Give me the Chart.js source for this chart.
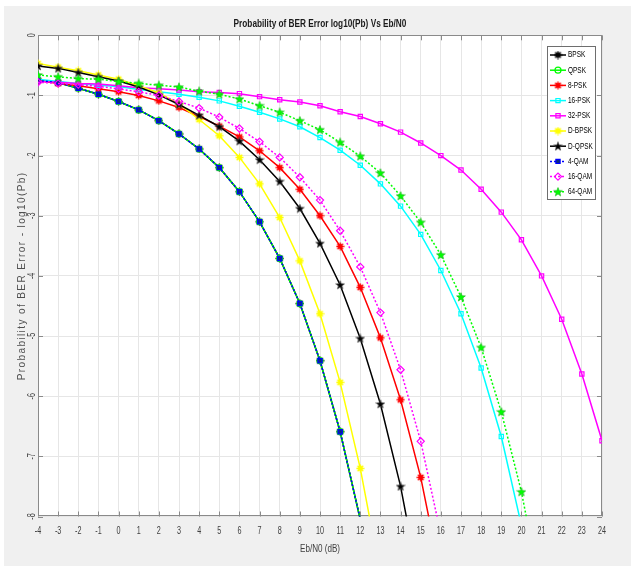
<!DOCTYPE html>
<html>
<head>
<meta charset="utf-8">
<script src="https://cdn.jsdelivr.net/npm/chart.js@4.4.1/dist/chart.umd.min.js"></script>
<style>
  html, body { margin: 0; padding: 0; background: #fff; }
  #fig { position: absolute; left: 4px; top: 6px; width: 627px; height: 560px; background: #f0f0f0; }
  #plot { position: absolute; left: 0; top: 0; }
</style>
</head>
<body>
<div id="fig"></div>
<canvas id="plot" width="640" height="571"></canvas>
<script>
// --- Datos ---
const ebn0 = [-4, -3, -2, -1, 0, 1, 2, 3, 4, 5, 6, 7, 8, 9, 10, 11, 12, 13, 14, 15, 16, 17, 18, 19, 20, 21, 22, 23, 24];
const yTicks = [0, -1, -2, -3, -4, -5, -6, -7, -8];

const bpsk   = [-0.75, -0.79, -0.88, -0.98, -1.10, -1.24, -1.42, -1.64, -1.89, -2.20, -2.60, -3.10, -3.71, -4.46, -5.41, -6.59, -8.05];
const qpsk   = [-0.75, -0.79, -0.88, -0.98, -1.10, -1.24, -1.42, -1.64, -1.89, -2.20, -2.60, -3.10, -3.71, -4.46, -5.41, -6.59, -8.05];
const psk8   = [-0.75, -0.80, -0.84, -0.89, -0.94, -1.00, -1.09, -1.20, -1.35, -1.51, -1.69, -1.92, -2.20, -2.56, -3.00, -3.51, -4.19, -5.03, -6.06, -7.35, -9.00];
const psk16  = [-0.73, -0.77, -0.80, -0.83, -0.85, -0.90, -0.94, -0.98, -1.03, -1.09, -1.18, -1.28, -1.39, -1.52, -1.70, -1.91, -2.16, -2.47, -2.84, -3.31, -3.91, -4.63, -5.53, -6.67, -8.15];
const psk32  = [-0.77, -0.78, -0.80, -0.81, -0.84, -0.87, -0.89, -0.91, -0.94, -0.95, -0.97, -1.02, -1.07, -1.11, -1.17, -1.27, -1.35, -1.47, -1.61, -1.79, -2.00, -2.24, -2.56, -2.94, -3.40, -4.00, -4.72, -5.63, -6.74];
const dbpsk  = [-0.47, -0.53, -0.59, -0.66, -0.73, -0.84, -0.96, -1.14, -1.40, -1.67, -2.03, -2.47, -3.03, -3.75, -4.63, -5.77, -7.20, -8.97];
const dqpsk  = [-0.51, -0.55, -0.62, -0.69, -0.76, -0.86, -0.99, -1.15, -1.33, -1.52, -1.76, -2.07, -2.43, -2.88, -3.46, -4.15, -5.04, -6.13, -7.50, -9.25];
const qam4   = [-0.75, -0.79, -0.88, -0.98, -1.10, -1.24, -1.42, -1.64, -1.89, -2.20, -2.60, -3.10, -3.71, -4.46, -5.41, -6.59, -8.05];
const qam16  = [-0.78, -0.80, -0.82, -0.85, -0.89, -0.94, -1.00, -1.10, -1.21, -1.36, -1.55, -1.77, -2.03, -2.36, -2.74, -3.25, -3.85, -4.61, -5.56, -6.75, -8.30];
const qam64  = [-0.66, -0.69, -0.72, -0.73, -0.77, -0.80, -0.83, -0.86, -0.93, -0.98, -1.06, -1.17, -1.28, -1.42, -1.57, -1.78, -2.01, -2.29, -2.67, -3.11, -3.65, -4.35, -5.19, -6.26, -7.59, -9.30];

const TITLE = 'Probability of BER Error log10(Pb) Vs Eb/N0';
const X_LABEL = 'Eb/N0 (dB)';
const Y_LABEL = 'Probability of BER Error - log10(Pb)';
const SANS = "'Liberation Sans', Arial, sans-serif";

// --- Marcadores al estilo MATLAB ---
// Estrella de cinco puntas ('p')
function makePentagram(fill, stroke) {
    const c = document.createElement('canvas');
    c.width = 10; c.height = 10;
    const g = c.getContext('2d');
    g.beginPath();
    for (let k = 0; k < 10; k++) {
        const r = k % 2 ? 1.9 : 4.6;
        const a = -Math.PI / 2 + k * Math.PI / 5;
        g.lineTo(5 + r * Math.cos(a), 5.3 + r * Math.sin(a));
    }
    g.closePath();
    g.fillStyle = fill;
    g.fill();
    g.strokeStyle = stroke;
    g.lineWidth = 0.7;
    g.stroke();
    return c;
}

// Asterisco relleno ('*' con cara de color)
function makeAsterisk(color) {
    const c = document.createElement('canvas');
    c.width = 9; c.height = 9;
    const g = c.getContext('2d');
    g.strokeStyle = color;
    g.fillStyle = color;
    g.lineWidth = 1.3;
    g.beginPath();
    for (let k = 0; k < 4; k++) {
        const a = k * Math.PI / 4;
        g.moveTo(4.5 - 4 * Math.cos(a), 4.5 - 4 * Math.sin(a));
        g.lineTo(4.5 + 4 * Math.cos(a), 4.5 + 4 * Math.sin(a));
    }
    g.stroke();
    g.beginPath();
    g.arc(4.5, 4.5, 2.4, 0, Math.PI * 2);
    g.fill();
    return c;
}

const toPoints = vals => vals.map((v, i) => ({ x: ebn0[i], y: v }));

// Oculta marcadores fuera del eje (como MATLAB)
const radiusIn = r => ctx => (ctx.raw && ctx.raw.y < -8 ? 0 : r);

function series(label, vals, color, style) {
    return {
        label,
        data: toPoints(vals),
        borderColor: color,
        borderWidth: 1.5,
        borderDash: style.dash || [],
        pointStyle: style.point,
        pointRadius: radiusIn(style.radius || 3),
        pointHoverRadius: radiusIn(style.radius || 3),
        pointBorderColor: style.pointBorder || color,
        pointBackgroundColor: style.fill || 'rgba(0,0,0,0)',
        pointBorderWidth: 1.2,
        fill: false,
        tension: 0
    };
}

const datasets = [
    series('BPSK', bpsk, '#000000', { point: makeAsterisk('#000000'), radius: 4 }),
    series('QPSK', qpsk, '#00ff00', { point: 'circle', radius: 3 }),
    series('8-PSK', psk8, '#ff0000', { point: makeAsterisk('#ff0000'), radius: 4 }),
    series('16-PSK', psk16, '#00ffff', { point: 'rect', radius: 3 }),
    series('32-PSK', psk32, '#ff00ff', { point: 'rect', radius: 3 }),
    series('D-BPSK', dbpsk, '#ffff00', { point: makeAsterisk('#ffff00'), radius: 4 }),
    series('D-QPSK', dqpsk, '#000000', { point: makePentagram('#000000', '#555555'), radius: 5 }),
    series('4-QAM', qam4, '#0000ff', { point: 'rect', radius: 3, dash: [2, 2], fill: '#0a2a80', pointBorder: '#0000ff' }),
    series('16-QAM', qam16, '#ff00ff', { point: 'rectRot', radius: 3.6, dash: [2, 2] }),
    series('64-QAM', qam64, '#00ff00', { point: makePentagram('#00ff00', '#22bb22'), radius: 5, dash: [2, 2] })
];
// En MATLAB la última curva queda encima
datasets.forEach((d, i) => { d.order = datasets.length - i; });

// Texto estrecho (la figura original usa una fuente condensada)
function narrowText(ctx, text, x, y, sx, align, rotate) {
    ctx.save();
    ctx.translate(x, y);
    if (rotate) ctx.rotate(-Math.PI / 2);
    ctx.scale(sx, 1);
    ctx.textAlign = align;
    ctx.textBaseline = 'middle';
    ctx.fillText(text, 0, 0);
    ctx.restore();
}

// --- Plugins propios ---
const plotBackground = {
    id: 'plotBackground',
    beforeDraw(chart) {
        const { ctx, chartArea: a } = chart;
        ctx.save();
        ctx.fillStyle = '#ffffff';
        ctx.fillRect(a.left, a.top, a.right - a.left, a.bottom - a.top);
        ctx.restore();
    }
};

const axesBox = {
    id: 'axesBox',
    beforeDatasetsDraw(chart) {
        const { ctx, chartArea: a, scales: { x, y } } = chart;
        ctx.save();
        ctx.strokeStyle = '#8a8a8a';
        ctx.lineWidth = 1;
        ctx.beginPath();
        x.ticks.forEach(t => {
            const px = Math.round(x.getPixelForValue(t.value)) + 0.5;
            ctx.moveTo(px, a.bottom); ctx.lineTo(px, a.bottom - 5);
            ctx.moveTo(px, a.top); ctx.lineTo(px, a.top + 5);
        });
        y.ticks.forEach(t => {
            const py = Math.round(y.getPixelForValue(t.value)) + 0.5;
            ctx.moveTo(a.left, py); ctx.lineTo(a.left + 5, py);
            ctx.moveTo(a.right, py); ctx.lineTo(a.right - 5, py);
        });
        ctx.stroke();
        ctx.strokeRect(Math.round(a.left) + 0.5, Math.round(a.top) + 0.5,
            Math.round(a.right - a.left) - 1, Math.round(a.bottom - a.top) - 1);
        ctx.restore();
    }
};

const axisText = {
    id: 'axisText',
    afterDraw(chart) {
        const { ctx, chartArea: a, scales: { x, y } } = chart;
        ctx.save();
        // título
        ctx.fillStyle = '#1a1a1a';
        ctx.font = 'bold 11px ' + SANS;
        narrowText(ctx, TITLE, (a.left + a.right) / 2, 24, 0.75, 'center');
        // etiquetas de marcas
        ctx.fillStyle = '#404040';
        ctx.font = '10px ' + SANS;
        x.ticks.forEach(t => {
            narrowText(ctx, String(t.value), x.getPixelForValue(t.value), a.bottom + 15, 0.72, 'center');
        });
        y.ticks.forEach(t => {
            narrowText(ctx, String(t.value), a.left - 6, y.getPixelForValue(t.value), 0.72, 'center', true);
        });
        // títulos de ejes
        ctx.font = '10.5px ' + SANS;
        narrowText(ctx, X_LABEL, (a.left + a.right) / 2, a.bottom + 33, 0.77, 'center');
        ctx.fillStyle = '#505050';
        ctx.font = '10px ' + SANS;
        ctx.letterSpacing = '1.4px';
        narrowText(ctx, Y_LABEL, 22, (a.top + a.bottom) / 2, 1, 'center', true);
        ctx.restore();
    }
};

const boxLegend = {
    id: 'boxLegend',
    afterDatasetsDraw(chart) {
        const { ctx } = chart;
        const left = 547, top = 46, width = 48, height = 153, step = 15.2;
        ctx.save();
        ctx.fillStyle = '#ffffff';
        ctx.fillRect(left, top, width, height);
        ctx.strokeStyle = '#6e6e6e';
        ctx.lineWidth = 1;
        ctx.strokeRect(left + 0.5, top + 0.5, width, height);
        chart.data.datasets.forEach((d, i) => {
            const yy = top + 9 + i * step;
            ctx.strokeStyle = d.borderColor;
            ctx.lineWidth = d.borderWidth;
            ctx.setLineDash(d.borderDash);
            ctx.beginPath();
            ctx.moveTo(left + 3, yy);
            ctx.lineTo(left + 19, yy);
            ctx.stroke();
            ctx.setLineDash([]);
            ctx.fillStyle = d.pointBackgroundColor;
            ctx.strokeStyle = d.pointBorderColor;
            ctx.lineWidth = d.pointBorderWidth;
            const r = d.pointRadius({ raw: { y: 0 } });
            Chart.helpers.drawPoint(ctx, { pointStyle: d.pointStyle, radius: r, borderWidth: d.pointBorderWidth, rotation: 0 }, left + 11, yy);
            ctx.fillStyle = '#000000';
            ctx.font = '9px ' + SANS;
            narrowText(ctx, d.label, left + 21, yy, 0.72, 'left');
        });
        ctx.restore();
    }
};

new Chart(document.getElementById('plot'), {
    type: 'line',
    data: { datasets },
    options: {
        responsive: false,
        animation: false,
        layout: { padding: { left: 0, right: 38, top: 35.3, bottom: 0 } },
        plugins: {
            legend: { display: false },
            tooltip: { enabled: false },
            title: { display: false }
        },
        scales: {
            x: {
                type: 'linear',
                min: -4,
                max: 24,
                afterBuildTicks: scale => { scale.ticks = ebn0.map(v => ({ value: v })); },
                afterFit: scale => { scale.height = 54.5; },
                ticks: { display: false },
                grid: { color: '#e6e6e6', drawTicks: false },
                border: { display: false }
            },
            y: {
                type: 'linear',
                min: -8,
                max: 0,
                afterBuildTicks: scale => { scale.ticks = yTicks.map(v => ({ value: v })); },
                afterFit: scale => { scale.width = 38; },
                ticks: { display: false },
                grid: { color: '#e6e6e6', drawTicks: false },
                border: { display: false }
            }
        }
    },
    plugins: [plotBackground, axesBox, boxLegend, axisText]
});
</script>
</body>
</html>
